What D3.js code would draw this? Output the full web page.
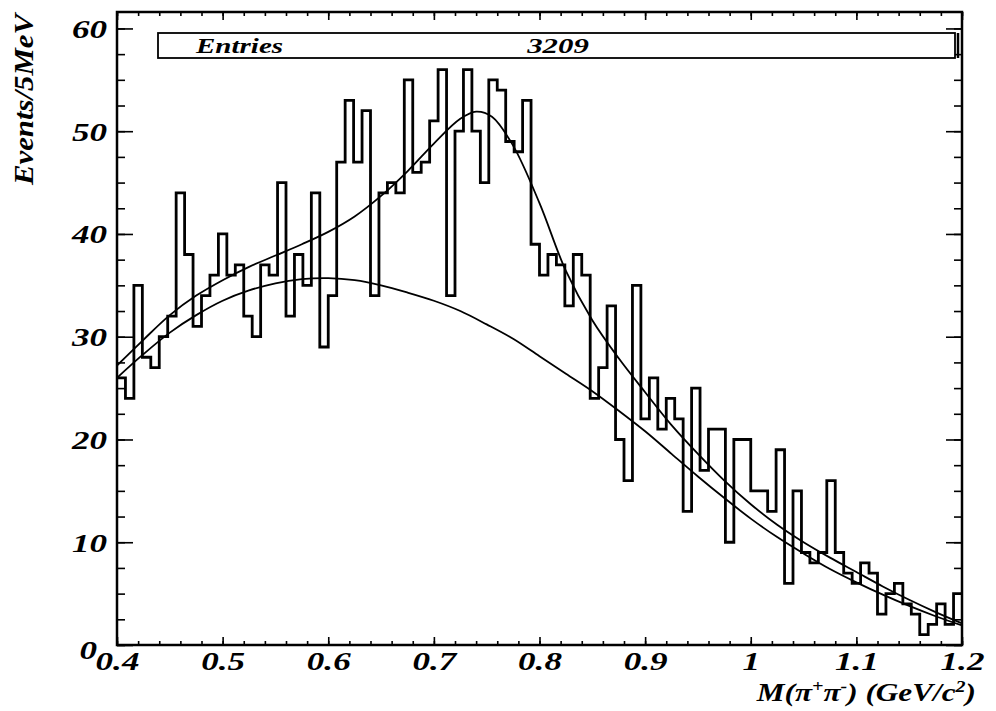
<!DOCTYPE html>
<html>
<head>
<meta charset="utf-8">
<script src="https://cdn.jsdelivr.net/npm/d3@7"></script>
<style>
  body { margin: 0; background: #fff; }
  text { font-family: "Liberation Serif", "DejaVu Serif", serif; font-weight: bold; font-style: italic; fill: #000; }
</style>
</head>
<body>
<div id="chart"></div>
<script>
// M(pi+ pi-) histogram, 100 bins from 0.4 to 1.2 GeV
const xMin = 0.4, xMax = 1.2;
const counts = [
  26, 24, 35, 28, 27, 30, 32, 44, 38, 31,
  34, 36, 40, 36, 37, 32, 30, 37, 36, 45,
  32, 38, 35, 44, 29, 34, 47, 53, 47, 52,
  34, 44, 45, 44, 55, 46, 47, 51, 56, 34,
  50, 56, 50, 45, 55, 54, 49, 48, 53, 39,
  36, 38, 37, 33, 38, 36, 24, 27, 33, 20,
  16, 35, 22, 26, 21, 24, 22, 13, 25, 17,
  21, 21, 10, 20, 20, 15, 15, 13, 19, 6,
  15, 9, 8, 9, 16, 9, 7, 6, 8, 7,
  3, 5, 6, 4, 3, 1, 2, 4, 2, 5
];
const entries = 3209;

// fit: total (signal + background)
const totalX = [0.40, 0.425, 0.45, 0.475, 0.50, 0.525, 0.55, 0.575, 0.60, 0.625, 0.65, 0.675, 0.70, 0.725, 0.74, 0.755,
  0.775, 0.80, 0.825, 0.85, 0.875, 0.90, 0.925, 0.95, 0.975, 1.00, 1.025, 1.05, 1.075, 1.10, 1.125, 1.15, 1.175, 1.20];
const totalY = [27.2, 29.7, 32.1, 34.0, 35.5, 36.8, 37.9, 39.0, 40.2, 41.7, 43.7, 46.1, 48.8, 51.2, 51.9, 51.4,
  48.6, 43.0, 36.4, 31.6, 27.9, 24.6, 21.4, 18.6, 16.0, 13.7, 11.7, 10.0, 8.5, 7.1, 5.7, 4.4, 3.2, 2.1];

// fit: background only
const bkgX = [0.40, 0.425, 0.45, 0.475, 0.50, 0.525, 0.55, 0.575, 0.60, 0.625, 0.65, 0.675, 0.70, 0.725, 0.75, 0.775,
  0.80, 0.825, 0.85, 0.875, 0.90, 0.925, 0.95, 0.975, 1.00, 1.025, 1.05, 1.075, 1.10, 1.125, 1.15, 1.175, 1.20];
const bkgY = [26.0, 28.3, 30.4, 32.1, 33.5, 34.5, 35.2, 35.6, 35.7, 35.5, 35.0, 34.3, 33.5, 32.5, 31.2, 29.8,
  28.1, 26.4, 24.7, 22.8, 20.8, 18.6, 16.4, 14.3, 12.3, 10.5, 8.9, 7.4, 6.1, 4.9, 3.8, 2.8, 1.9];

const xTicks = [0.4, 0.5, 0.6, 0.7, 0.8, 0.9, 1.0, 1.1, 1.2];
const yTicks = [0, 10, 20, 30, 40, 50, 60];

const width = 996, height = 711;
const plotLeft = 117, plotRight = 962, plotTop = 12, plotBottom = 645;
const stretch = 1.35;

const svg = d3.select("#chart").append("svg")
  .attr("width", width)
  .attr("height", height);

const x = d3.scaleLinear().domain([xMin, xMax]).range([plotLeft, plotRight]);
const y = d3.scaleLinear().domain([0, 61.6]).range([plotBottom, plotTop]);

const binWidth = (xMax - xMin) / counts.length;
const steps = counts.map((c, i) => [xMin + i * binWidth, c]);
steps.push([xMax, counts[counts.length - 1]]);

const xMinor = d3.range(xMin, xMax + 1e-9, 0.02);
const yMinor = d3.range(0, 61.6, 2.5);

function drawAxis(axis, tx, ty) {
  const g = svg.append("g").attr("transform", `translate(${tx},${ty})`).call(axis);
  g.select(".domain").remove();
  g.selectAll("line").attr("stroke", "#000").attr("stroke-width", 1.6);
  return g;
}

// minor ticks
drawAxis(d3.axisBottom(x).tickValues(xMinor).tickSize(-4).tickFormat(""), 0, plotBottom);
drawAxis(d3.axisTop(x).tickValues(xMinor).tickSize(-4).tickFormat(""), 0, plotTop);
drawAxis(d3.axisLeft(y).tickValues(yMinor).tickSize(-8).tickFormat(""), plotLeft, 0);
drawAxis(d3.axisRight(y).tickValues(yMinor).tickSize(-8).tickFormat(""), plotRight, 0);
// major ticks
drawAxis(d3.axisTop(x).tickValues(xTicks).tickSize(-8).tickFormat(""), 0, plotTop);
drawAxis(d3.axisRight(y).tickValues(yTicks).tickSize(-16).tickFormat(""), plotRight, 0);

const gx = drawAxis(d3.axisBottom(x).tickValues(xTicks).tickSize(-8).tickFormat(d3.format("")), 0, plotBottom);
gx.selectAll("text")
  .attr("y", 25).attr("dy", null)
  .attr("font-size", 26)
  .attr("transform", `scale(${stretch},1)`);

const gy = drawAxis(d3.axisLeft(y).tickValues(yTicks).tickSize(-16), plotLeft, 0);
gy.selectAll("text")
  .attr("x", -10 / stretch)
  .attr("dy", "0.34em")
  .attr("font-size", 26)
  .attr("transform", `scale(${stretch},1)`);
gy.selectAll(".tick").filter(d => d === 0).select("text")
  .attr("x", -20 / stretch).attr("dy", "0.5em");

// histogram
svg.append("path")
  .datum(steps)
  .attr("d", d3.line().x(d => x(d[0])).y(d => y(d[1])).curve(d3.curveStepAfter))
  .attr("fill", "none")
  .attr("stroke", "#000")
  .attr("stroke-width", 2.8);

// fit curves
const curve = d3.line().x(d => x(d[0])).y(d => y(d[1])).curve(d3.curveCatmullRom);
[[bkgX, bkgY], [totalX, totalY]].forEach(([xs, ys]) => {
  svg.append("path")
    .datum(xs.map((v, i) => [v, ys[i]]))
    .attr("d", curve)
    .attr("fill", "none")
    .attr("stroke", "#000")
    .attr("stroke-width", 1.8);
});

// frame
svg.append("rect")
  .attr("x", plotLeft).attr("y", plotTop)
  .attr("width", plotRight - plotLeft).attr("height", plotBottom - plotTop)
  .attr("fill", "none")
  .attr("stroke", "#000")
  .attr("stroke-width", 2.5);

// stats box
svg.append("rect")
  .attr("x", 158).attr("y", 33)
  .attr("width", 797).attr("height", 25)
  .attr("fill", "#fff")
  .attr("stroke", "#000")
  .attr("stroke-width", 1.8);
svg.append("line")
  .attr("x1", 958).attr("x2", 958).attr("y1", 33).attr("y2", 58)
  .attr("stroke", "#000").attr("stroke-width", 2.5);

function label(txt, px, py, size, anchor, sx) {
  return svg.append("g").attr("transform", `translate(${px},${py})`)
    .append("text")
    .attr("font-size", size)
    .attr("text-anchor", anchor)
    .attr("transform", `scale(${sx},1)`)
    .text(txt);
}
label("Entries", 196, 53, 22, "start", 1.32);
label(entries, 558, 53, 22, "middle", 1.4);

// y title
svg.append("g").attr("transform", "translate(33,14) rotate(-90)")
  .append("text")
  .attr("font-size", 28)
  .attr("text-anchor", "end")
  .attr("transform", "scale(1.1,1)")
  .text("Events/5MeV");

// x title
const xt = svg.append("g").attr("transform", "translate(976,701)")
  .append("text")
  .attr("font-size", 25)
  .attr("text-anchor", "end")
  .attr("transform", "scale(1.25,1)");
xt.append("tspan").text("M(π");
xt.append("tspan").attr("dy", -9).attr("font-size", 16).text("+");
xt.append("tspan").attr("dy", 9).text("π");
xt.append("tspan").attr("dy", -9).attr("font-size", 16).text("-");
xt.append("tspan").attr("dy", 9).text(") (GeV/c");
xt.append("tspan").attr("dy", -9).attr("font-size", 16).text("2");
xt.append("tspan").attr("dy", 9).text(")");
</script>
</body>
</html>
